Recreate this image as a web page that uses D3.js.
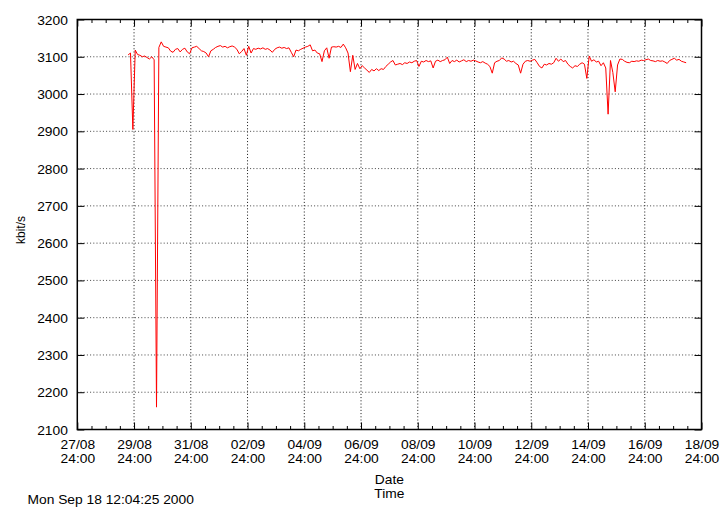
<!DOCTYPE html>
<html>
<head>
<meta charset="utf-8">
<script src="https://cdn.jsdelivr.net/npm/d3@7"></script>
<style>
  html, body { margin: 0; padding: 0; background: #fff; }
  svg { display: block; }
  text { font-family: "Liberation Sans", Arial, Helvetica, sans-serif; font-size: 12px; fill: #000; }
</style>
</head>
<body>
<svg id="chart" width="720" height="507"></svg>
<script>
// ---- data ----
const xDomain = ["2000-08-28T00:00:00Z", "2000-09-19T00:00:00Z"];
const yDomain = [2100, 3200];
const yTickValues = [2100, 2200, 2300, 2400, 2500, 2600, 2700, 2800, 2900, 3000, 3100, 3200];
const xDateLabels = ["27/08", "29/08", "31/08", "02/09", "04/09", "06/09", "08/09", "10/09", "12/09", "14/09", "16/09", "18/09"];
const xTimeLabel = "24:00";
const xAxisTitle = ["Date", "Time"];
const yAxisTitle = "kbit/s";
const stampText = "Mon Sep 18 12:04:25 2000";
const seriesStart = "2000-08-29T19:00:00Z";
const seriesStepHours = 2;
const kbits = [
  3105, 3110, 2905,
  3118, 3106, 3104, 3100, 3102, 3098, 3094, 3100, 3092, 2160, 3125, 3140,
  3128, 3126, 3124, 3115, 3112, 3120, 3122, 3113, 3120, 3123, 3113, 3108,
  3124, 3126, 3128, 3122, 3116, 3114, 3110, 3100, 3116, 3120, 3125, 3128,
  3130, 3126, 3128, 3124, 3127, 3129, 3126, 3120, 3108, 3114, 3122, 3104,
  3128, 3110, 3122, 3120, 3123, 3121, 3124, 3120, 3122, 3118, 3112, 3120,
  3124, 3126, 3123, 3125, 3122, 3124, 3112, 3100, 3118, 3116, 3120, 3123,
  3126, 3128, 3132, 3116, 3118, 3110, 3108, 3087, 3116, 3124, 3096, 3126,
  3127, 3126, 3128, 3125, 3134, 3124, 3110, 3060, 3104, 3066, 3082, 3068,
  3076, 3070, 3064, 3058, 3066, 3062, 3068, 3063, 3068, 3066, 3074, 3080,
  3086, 3090, 3078, 3080, 3082, 3079, 3084, 3082, 3086, 3084, 3088, 3090,
  3074, 3088, 3086, 3090, 3087, 3089, 3070, 3088, 3091, 3087, 3090, 3092,
  3099, 3082, 3090, 3087, 3091, 3086, 3089, 3092, 3087, 3090, 3088, 3091,
  3089, 3086, 3084, 3087, 3083, 3080, 3074, 3056, 3084, 3088, 3090, 3097,
  3094, 3088, 3090, 3086, 3088, 3082, 3078, 3056, 3080, 3088, 3090, 3088,
  3091, 3093, 3084, 3074, 3070, 3080, 3078, 3082, 3080, 3084, 3096, 3088,
  3094, 3087, 3090, 3080, 3074, 3070, 3076, 3074, 3080, 3084, 3080, 3042,
  3102, 3088, 3092, 3086, 3088, 3076, 3084, 3070, 2946, 3090, 3058, 3006,
  3078, 3094, 3093, 3088, 3085, 3084, 3088, 3087, 3089, 3088, 3091, 3090,
  3092, 3094, 3090, 3089, 3087, 3090, 3088, 3089, 3086, 3082, 3090, 3093,
  3096, 3091, 3093, 3088, 3086, 3084
];

// ---- layout ----
const L = 77.3, R = 701.5, T = 19.5, B = 429.5;
const SX = 1.15; // horizontal text stretch

const svg = d3.select("#chart");
svg.append("rect").attr("width", 720).attr("height", 507).attr("fill", "#fff");

const x = d3.scaleUtc().domain(xDomain.map(d => new Date(d))).range([L, R]);
const y = d3.scaleLinear().domain(yDomain).range([B, T]);

const t0 = new Date(seriesStart);
const points = kbits.map((v, i) => ({ t: d3.utcHour.offset(t0, i * seriesStepHours), v }));

const majors = d3.utcDay.range(x.domain()[0], d3.utcDay.offset(x.domain()[1], 1), 2);
const minors = d3.utcHour.range(x.domain()[0], x.domain()[1], 12).filter(d => d.getUTCHours() !== 0 || d3.utcDay.count(x.domain()[0], d) % 2 !== 0);

// ---- grid ----
const grid = svg.append("g");
grid.selectAll("line.vg").data(majors.slice(1, -1)).join("line")
  .attr("x1", d => x(d)).attr("x2", d => x(d)).attr("y1", T).attr("y2", B)
  .attr("stroke", "#111").attr("stroke-width", 1).attr("stroke-dasharray", "1,2.2");
grid.selectAll("line.hg").data(yTickValues.slice(1, -1)).join("line")
  .attr("x1", L).attr("x2", R).attr("y1", d => y(d)).attr("y2", d => y(d))
  .attr("stroke", "#444").attr("stroke-width", 1).attr("stroke-dasharray", "1,2.2");

// ---- axes ticks ----
function clean(g) { g.select(".domain").remove(); g.selectAll(".tick line").attr("stroke", "#000").attr("stroke-width", 1); }

const gxB = svg.append("g").attr("transform", `translate(0,${B})`)
  .call(d3.axisBottom(x).tickValues(majors).tickSize(-7).tickFormat((d, i) => xDateLabels[i]));
clean(gxB);
gxB.selectAll(".tick text").each(function (d, i) {
  const t = d3.select(this);
  t.text(null).attr("y", null).attr("dy", null).attr("transform", `scale(${SX},1)`)
   .attr("text-anchor", "middle").attr("font-size", 12).attr("font-family", null);
  t.append("tspan").attr("x", 0).attr("y", 19.5).text(xDateLabels[i]);
  t.append("tspan").attr("x", 0).attr("y", 33.5).text(xTimeLabel);
});
const gxBm = svg.append("g").attr("transform", `translate(0,${B})`)
  .call(d3.axisBottom(x).tickValues(minors).tickSize(-3.5).tickFormat(""));
clean(gxBm);

const gxT = svg.append("g").attr("transform", `translate(0,${T})`)
  .call(d3.axisTop(x).tickValues(majors).tickSize(-7).tickFormat(""));
clean(gxT);
const gxTm = svg.append("g").attr("transform", `translate(0,${T})`)
  .call(d3.axisTop(x).tickValues(minors).tickSize(-3.5).tickFormat(""));
clean(gxTm);

const gyL = svg.append("g").attr("transform", `translate(${L},0)`)
  .call(d3.axisLeft(y).tickValues(yTickValues).tickSize(-7).tickFormat(d3.format("d")));
clean(gyL);
gyL.selectAll(".tick text")
  .attr("x", -9.5 / SX).attr("dy", null).attr("y", 4.5)
  .attr("transform", `scale(${SX},1)`).attr("font-size", 12).attr("font-family", null)
  .attr("text-anchor", "end");

const gyR = svg.append("g").attr("transform", `translate(${R},0)`)
  .call(d3.axisRight(y).tickValues(yTickValues).tickSize(-7).tickFormat(""));
clean(gyR);

// ---- data line ----
svg.append("path").datum(points)
  .attr("fill", "none").attr("stroke", "#ff0000").attr("stroke-width", 1)
  .attr("stroke-linejoin", "round")
  .attr("d", d3.line().x(d => x(d.t)).y(d => y(d.v)));

// ---- frame ----
svg.append("rect").attr("x", L).attr("y", T).attr("width", R - L).attr("height", B - T)
  .attr("fill", "none").attr("stroke", "#000").attr("stroke-width", 1.5);

// ---- titles ----
svg.append("text").attr("transform", `translate(${(L + R) / 2},484) scale(${SX},1)`)
  .attr("text-anchor", "middle").text(xAxisTitle[0]);
svg.append("text").attr("transform", `translate(${(L + R) / 2},498) scale(${SX},1)`)
  .attr("text-anchor", "middle").text(xAxisTitle[1]);
svg.append("text").attr("transform", "translate(25,230) rotate(-90)")
  .attr("text-anchor", "middle").text(yAxisTitle);
svg.append("text").attr("transform", `translate(27.5,504) scale(${SX},1)`)
  .attr("text-anchor", "start").text(stampText);
</script>
</body>
</html>
